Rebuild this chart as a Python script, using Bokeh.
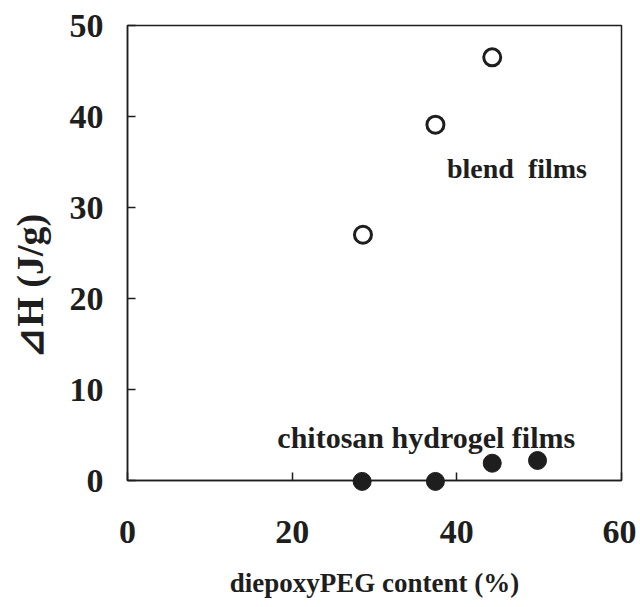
from bokeh.plotting import figure
from bokeh.models import Range1d, FixedTicker
from bokeh.embed import file_html
from bokeh.resources import INLINE
from bokeh.core.properties import value

# Data
blend_x = [28.6, 37.4, 44.3]
blend_y = [27.0, 39.1, 46.5]
hydrogel_x = [28.5, 37.4, 44.3, 49.8]
hydrogel_y = [-0.1, -0.1, 1.9, 2.2]

x_ticks = [0, 20, 40, 60]
y_ticks = [0, 10, 20, 30, 40, 50]

NB = "\u00a0"
label_text = ["blend" + NB * 2 + "films", "chitosan hydrogel films"]
label_x = [38.8, 18.2]
label_y = [34.3, 4.7]
label_size = ["28px", "30px"]

FONT = "Liberation Serif"
INK = "#1e1e1e"

p = figure(width=636, height=600, output_backend="svg", toolbar_location=None,
           x_range=Range1d(0, 60), y_range=Range1d(0, 50),
           min_border_left=127, min_border_right=15, min_border_top=25,
           min_border_bottom=119)
p.grid.visible = False
p.outline_line_color = INK
p.outline_line_width = 1.5

for ax in (p.xaxis[0], p.yaxis[0]):
    ax.axis_line_color = INK
    ax.axis_line_width = 1.5
    ax.major_tick_in = 8
    ax.major_tick_out = 0
    ax.major_tick_line_color = INK
    ax.major_tick_line_width = 1.5
    ax.minor_tick_line_color = None
    ax.major_label_text_font = FONT
    ax.major_label_text_font_style = "bold"
    ax.major_label_text_font_size = "34px"
    ax.major_label_text_color = INK
    ax.axis_label_text_font = FONT
    ax.axis_label_text_font_style = "bold"
    ax.axis_label_text_color = INK

p.xaxis.ticker = FixedTicker(ticks=x_ticks)
p.yaxis.ticker = FixedTicker(ticks=y_ticks)
p.xaxis.major_label_standoff = 40
p.yaxis.major_label_standoff = 24
p.xaxis.axis_label = "diepoxyPEG content (%)"
p.yaxis.axis_label = "⊿H (J/g)" + NB * 7
p.xaxis.axis_label_text_font_size = "27px"
p.yaxis.axis_label_text_font_size = "38px"
p.xaxis.axis_label_standoff = 22
p.yaxis.axis_label_standoff = 16

r1 = p.scatter(blend_x, blend_y, size=17, marker="circle", fill_color="white",
               line_color=INK, line_width=3)
r2 = p.scatter(hydrogel_x, hydrogel_y, size=18, marker="circle", fill_color=INK,
               line_color=INK, line_width=1)
r1.level = "overlay"
r2.level = "overlay"

p.text(x=label_x, y=label_y, text=label_text, text_font=value(FONT),
       text_font_style="bold", text_font_size=label_size, text_color=INK,
       text_baseline="alphabetic", text_align="left")

open("out.html", "w").write(file_html(p, INLINE))
